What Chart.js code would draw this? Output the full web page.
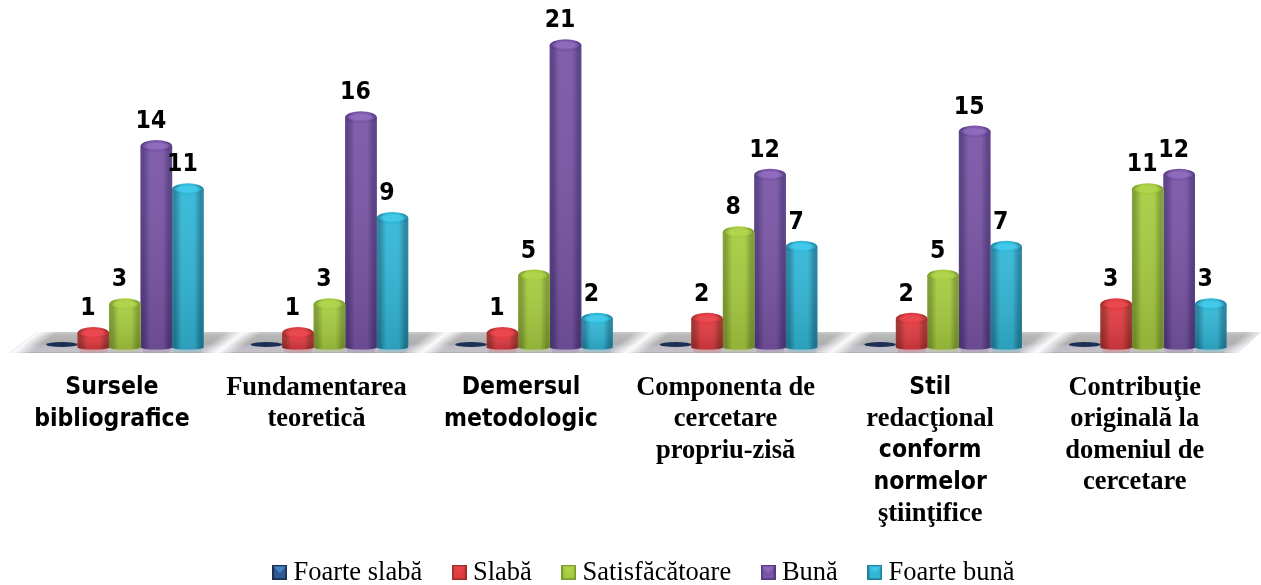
<!DOCTYPE html>
<html>
<head>
<meta charset="utf-8">
<style>
  html, body { margin: 0; padding: 0; background: #fff; }
  #wrap { width: 1261px; height: 585px; position: relative; }
</style>
<script src="https://cdn.jsdelivr.net/npm/chart.js@4"></script>
</head>
<body>
<div id="wrap"><canvas id="chart"></canvas></div>
<script>
/* ─── Data ───────────────────────────────────────────────────────────────── */
const categories = [
  ['Sursele', 'bibliografice'],
  ['Fundamentarea', 'teoretică'],
  ['Demersul', 'metodologic'],
  ['Componenta de', 'cercetare', 'propriu-zisă'],
  ['Stil', 'redacţional', 'conform', 'normelor', 'ştiinţifice'],
  ['Contribuţie', 'originală la', 'domeniul de', 'cercetare']
];
const seriesNames  = ['Foarte slabă', 'Slabă', 'Satisfăcătoare', 'Bună', 'Foarte bună'];
const foarteSlaba  = [0, 0, 0, 0, 0, 0];
const slaba        = [1, 1, 1, 2, 2, 3];
const satisfacator = [3, 3, 5, 8, 5, 11];
const buna         = [14, 16, 21, 12, 15, 12];
const foarteBuna   = [11, 9, 2, 7, 7, 3];
const seriesValues = [foarteSlaba, slaba, satisfacator, buna, foarteBuna];

/* lines the original sets in a sans face, everything else is serif */
const sansLines = ['Sursele', 'bibliografice', 'Demersul', 'metodologic', 'Stil', 'conform', 'normelor'];

/* edge / body / cap colours per series */
const palette = [
  { edge: '#1c2f55', body: '#2f5a96', cap: '#4a86c8' },
  { edge: '#a02f2c', body: '#e03c42', cap: '#e8484e' },
  { edge: '#7c9c2e', body: '#a6cb40', cap: '#b0d44e' },
  { edge: '#553b82', body: '#7a55a6', cap: '#8f6bbd' },
  { edge: '#22829e', body: '#32b6d6', cap: '#42c8e8' }
];

/* ─── Helpers ────────────────────────────────────────────────────────────── */
function legendIcon(c) {
  const cv = document.createElement('canvas');
  cv.width = cv.height = 15;
  const g = cv.getContext('2d');
  g.fillStyle = c.edge;
  g.fillRect(0, 0, 15, 15);
  g.fillStyle = c.body;
  g.fillRect(2, 2, 11, 11);
  g.fillStyle = c.cap;
  g.globalAlpha = 0.9;
  g.beginPath();
  g.moveTo(1, 1); g.lineTo(14, 1); g.lineTo(7.5, 8); g.closePath();
  g.fill();
  return cv;
}

function ellipse(ctx, x, y, rx, ry, fill) {
  ctx.fillStyle = fill;
  ctx.beginPath();
  ctx.ellipse(x, y, rx, ry, 0, 0, Math.PI * 2);
  ctx.fill();
}

/* the sans text in the original is squeezed sideways */
function narrowText(ctx, text, x, y) {
  ctx.save();
  ctx.translate(x, y);
  ctx.scale(0.92, 1);
  ctx.font = 'bold 24px "DejaVu Sans"';
  ctx.fillText(text, 0, 0);
  ctx.restore();
}

/* ─── Floor under the bars ───────────────────────────────────────────────── */
const floorPlugin = {
  id: 'floor',
  beforeDatasetsDraw(chart) {
    const { ctx, scales: { x, y }, width } = chart;
    const zero = y.getPixelForValue(0);
    const top = zero - 15.5, bottom = zero + 5.5;
    ctx.save();
    ctx.beginPath();
    ctx.moveTo(9, bottom);
    ctx.lineTo(37, top);
    ctx.lineTo(width, top);
    ctx.lineTo(width - 23, bottom);
    ctx.closePath();
    ctx.clip();

    const base = ctx.createLinearGradient(0, top, 0, bottom);
    base.addColorStop(0, '#cccccc');
    base.addColorStop(0.15, '#b8b8b8');
    base.addColorStop(0.58, '#aeaeae');
    base.addColorStop(0.66, '#bcb9c3');
    base.addColorStop(0.94, '#c4c2c9');
    base.addColorStop(1, '#a4a4a4');
    ctx.fillStyle = base;
    ctx.fillRect(0, top, width, bottom - top);

    /* diagonal white streaks in the gaps between the groups */
    const mid = (top + bottom) / 2;
    categories.concat([[]]).forEach((_, i) => {
      const cx = x.getPixelForValue(i - 0.5) + 3;
      const g = ctx.createLinearGradient(cx - 7, mid - 9, cx + 7, mid + 9);
      g.addColorStop(0, 'rgba(255,255,255,0)');
      g.addColorStop(0.5, 'rgba(255,255,255,0.95)');
      g.addColorStop(1, 'rgba(255,255,255,0)');
      ctx.fillStyle = g;
      ctx.fillRect(0, top, width, bottom - top);
    });
    ctx.restore();
  }
};

/* ─── Cylinders painted over the bar elements ────────────────────────────── */
const cylinderPlugin = {
  id: 'cylinder',
  afterDatasetDraw(chart, args) {
    const { ctx } = chart;
    const c = palette[args.index];
    const meta = chart.getDatasetMeta(args.index);
    ctx.save();
    meta.data.forEach((bar, i) => {
      const w = bar.width, rx = w / 2, left = bar.x - rx;
      const v = seriesValues[args.index][i];

      if (v === 0) {
        ellipse(ctx, bar.x, bar.base - 3, rx, 2.5, c.edge);
        return;
      }

      /* reflection on the floor */
      ctx.globalAlpha = 0.22;
      ctx.fillStyle = c.body;
      ctx.fillRect(left + 2, bar.base, w - 4, 5);
      ctx.globalAlpha = 1;

      const g = ctx.createLinearGradient(left, 0, left + w, 0);
      g.addColorStop(0, c.edge);
      g.addColorStop(0.1, c.edge);
      g.addColorStop(0.3, c.body);
      g.addColorStop(0.7, c.body);
      g.addColorStop(0.9, c.edge);
      g.addColorStop(1, c.edge);

      ctx.beginPath();
      ctx.moveTo(left, bar.y);
      ctx.lineTo(left, bar.base);
      ctx.ellipse(bar.x, bar.base, rx, 2, 0, Math.PI, 0, true);
      ctx.lineTo(left + w, bar.y);
      ctx.closePath();
      ctx.fillStyle = g;
      ctx.fill();

      /* darker towards the floor */
      const shade = ctx.createLinearGradient(0, bar.y, 0, bar.base);
      shade.addColorStop(0, 'rgba(255,255,255,0.06)');
      shade.addColorStop(1, 'rgba(0,0,0,0.12)');
      ctx.fillStyle = shade;
      ctx.fill();

      /* rounded top with a soft highlight */
      ellipse(ctx, bar.x, bar.y, rx, 6, g);
      ctx.save();
      ctx.translate(bar.x, bar.y);
      ctx.scale(1, 0.3);
      const hi = ctx.createRadialGradient(0, 0, 0, 0, 0, rx);
      hi.addColorStop(0, c.cap);
      hi.addColorStop(0.55, c.cap);
      hi.addColorStop(1, c.cap + '00');
      ellipse(ctx, 0, 0, rx, rx, hi);
      ctx.restore();
    });
    ctx.restore();
  }
};

/* ─── Value labels and category labels ───────────────────────────────────── */
const textPlugin = {
  id: 'texts',
  afterDraw(chart) {
    const { ctx, scales: { x, y } } = chart;
    ctx.save();
    ctx.fillStyle = '#000';
    ctx.textAlign = 'center';

    ctx.textBaseline = 'alphabetic';
    seriesValues.forEach((vals, s) => {
      chart.getDatasetMeta(s).data.forEach((bar, i) => {
        if (vals[i] === 0) return;
        narrowText(ctx, String(vals[i]), bar.x - 5.5, bar.y - 18);
      });
    });

    ctx.textBaseline = 'middle';
    categories.forEach((lines, i) => {
      const cx = x.getPixelForValue(i) - 13;
      lines.forEach((line, n) => {
        const ly = y.getPixelForValue(0) + 40.5 + n * 31.5;
        if (sansLines.includes(line)) {
          narrowText(ctx, line, cx, ly);
        } else {
          ctx.font = 'bold 26.5px "Liberation Serif"';
          ctx.fillText(line, cx, ly);
        }
      });
    });
    ctx.restore();
  }
};

/* the legend sits lower and further right than the default slot */
const legendShift = {
  id: 'legendShift',
  afterLayout(chart) {
    const l = chart.legend;
    l.left += 10.5; l.right += 10.5;
    l.top += 11; l.bottom += 11;
  }
};

/* ─── Chart ──────────────────────────────────────────────────────────────── */
new Chart(document.getElementById('chart'), {
  type: 'bar',
  plugins: [floorPlugin, cylinderPlugin, textPlugin, legendShift],
  data: {
    labels: categories,
    datasets: seriesNames.map((name, s) => ({
      label: name,
      data: seriesValues[s],
      backgroundColor: palette[s].body,
      categoryPercentage: 0.77,
      barPercentage: 1
    }))
  },
  options: {
    responsive: true,
    maintainAspectRatio: false,
    animation: false,
    layout: { padding: { left: 22.6, right: 11, top: 2, bottom: 0 } },
    scales: {
      x: {
        grid: { display: false },
        border: { display: false },
        ticks: { display: false },
        afterFit: scale => { scale.height = 164.5; }
      },
      y: { display: false, min: 0, max: 24 }
    },
    plugins: {
      tooltip: { enabled: false },
      legend: {
        position: 'bottom',
        labels: {
          color: '#000',
          font: { family: '"Liberation Serif"', size: 26.5 },
          usePointStyle: true,
          boxWidth: 1,
          padding: 36.5,
          generateLabels(chart) {
            return Chart.defaults.plugins.legend.labels.generateLabels(chart).map((item, i) => {
              item.pointStyle = legendIcon(palette[i]);
              item.lineWidth = 0;
              return item;
            });
          }
        }
      }
    }
  }
});
</script>
</body>
</html>
